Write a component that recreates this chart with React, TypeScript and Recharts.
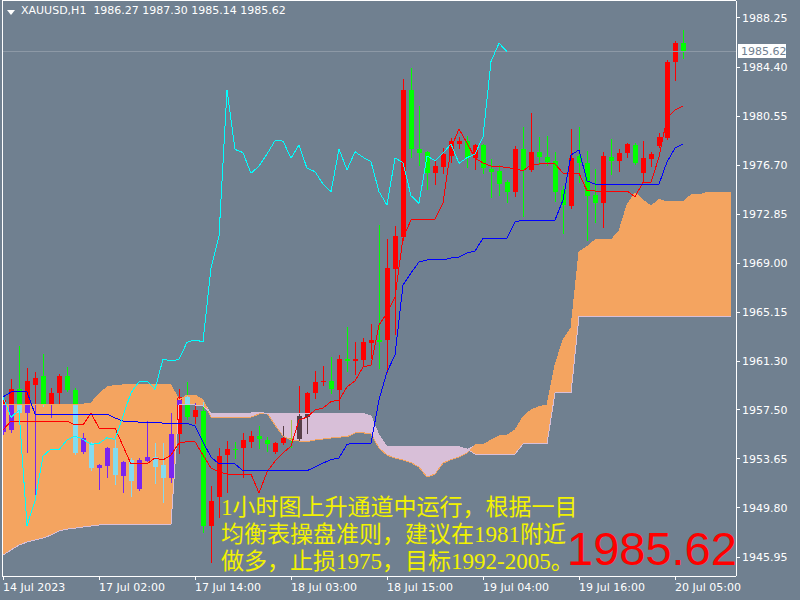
import React from "react";
import {
  Area,
  Bar,
  ComposedChart,
  Line,
  ReferenceLine,
  XAxis,
  YAxis,
} from "recharts";

// XAUUSD H1 candles, 14 Jul 13:00 .. 20 Jul 06:00
const opens = [
  1955.76, 1955.91, 1959.13, 1957.27, 1959.45, 1960.18, 1957.88, 1958.84, 1960.15, 1959.05,
  1954.21, 1954.87, 1952.91, 1953.11, 1954.52, 1952.33, 1953.56, 1951.28, 1953.5, 1953.77,
  1953.17, 1952.17, 1955.6, 1958.48, 1956.96, 1957.43, 1948.4, 1950.63, 1953.95, 1954.42,
  1954.48, 1955.0, 1955.44, 1955.13, 1954.21, 1954.87, 1955.31, 1955.18, 1956.93, 1958.79,
  1959.66, 1959.76, 1959.05, 1961.46, 1961.33, 1961.41, 1962.77, 1962.98, 1962.98, 1968.57,
  1971.04, 1982.6, 1977.97, 1977.75, 1976.06, 1976.53, 1977.44, 1978.34, 1978.59, 1977.24,
  1978.28, 1976.4, 1976.24, 1975.4, 1974.62, 1977.97, 1976.32, 1977.75, 1977.36, 1977.05,
  1974.75, 1973.52, 1977.42, 1976.84, 1974.36, 1973.7, 1977.36, 1977.05, 1977.63, 1978.28,
  1976.11, 1977.18, 1978.2, 1978.81, 1984.82, 1986.27,
];
const highs = [
  1958.42, 1959.89, 1962.51, 1960.78, 1960.44, 1961.88, 1959.23, 1960.29, 1960.83, 1959.21,
  1955.66, 1955.0, 1953.25, 1954.58, 1955.13, 1953.48, 1953.69, 1953.69, 1956.62, 1954.87,
  1954.87, 1957.27, 1959.13, 1959.7, 1958.03, 1958.27, 1951.52, 1954.48, 1955.05, 1955.0,
  1955.66, 1955.84, 1956.23, 1955.39, 1955.0, 1956.23, 1956.7, 1959.37, 1958.93, 1960.54,
  1960.94, 1961.62, 1961.8, 1963.97, 1962.8, 1963.11, 1964.23, 1972.0, 1970.88, 1971.92,
  1983.44, 1984.3, 1981.34, 1977.81, 1977.03, 1978.07, 1978.81, 1978.93, 1978.99, 1978.34,
  1978.34, 1977.18, 1976.71, 1975.53, 1978.2, 1979.67, 1980.82, 1978.89, 1978.99, 1977.75,
  1975.06, 1979.51, 1979.72, 1977.81, 1976.4, 1977.75, 1978.75, 1977.97, 1978.4, 1978.4,
  1978.59, 1977.71, 1979.2, 1984.95, 1986.44, 1987.3,
];
const lows = [
  1955.6, 1955.76, 1957.17, 1954.21, 1950.81, 1957.8, 1956.96, 1958.06, 1958.97, 1954.03,
  1954.11, 1952.77, 1951.26, 1952.2, 1951.68, 1951.07, 1950.76, 1951.21, 1953.48, 1951.73,
  1950.29, 1951.86, 1954.08, 1956.78, 1956.46, 1947.93, 1945.58, 1949.11, 1951.07, 1953.69,
  1952.25, 1954.6, 1954.48, 1954.27, 1954.15, 1954.78, 1954.6, 1955.09, 1955.66, 1958.4,
  1959.45, 1958.79, 1957.56, 1960.54, 1960.29, 1960.94, 1961.54, 1960.76, 1960.49, 1963.45,
  1970.83, 1977.32, 1976.71, 1974.8, 1975.2, 1976.06, 1976.92, 1978.07, 1976.58, 1976.37,
  1976.11, 1974.22, 1974.36, 1973.83, 1974.3, 1972.73, 1976.24, 1976.79, 1976.71, 1973.91,
  1971.4, 1973.36, 1975.4, 1970.83, 1972.26, 1971.87, 1976.0, 1976.26, 1977.36, 1976.79,
  1975.4, 1976.66, 1978.12, 1978.75, 1983.38, 1985.14,
];
const closes = [
  1958.27, 1959.13, 1957.27, 1959.76, 1960.02, 1957.88, 1958.84, 1960.15, 1959.05, 1954.13,
  1955.26, 1952.91, 1953.17, 1954.52, 1952.38, 1953.43, 1951.94, 1953.56, 1953.82, 1953.03,
  1952.17, 1955.6, 1958.48, 1956.91, 1957.48, 1948.4, 1950.37, 1953.87, 1954.42, 1954.37,
  1955.13, 1955.44, 1955.18, 1954.79, 1954.87, 1955.31, 1955.18, 1957.01, 1958.84, 1959.7,
  1959.76, 1959.11, 1961.49, 1961.33, 1961.46, 1962.8, 1962.98, 1962.84, 1968.65, 1971.14,
  1982.6, 1977.94, 1977.68, 1976.06, 1976.63, 1977.57, 1978.62, 1978.59, 1977.24, 1978.28,
  1976.45, 1976.19, 1975.22, 1974.62, 1977.97, 1976.32, 1977.75, 1977.32, 1976.97, 1974.62,
  1973.57, 1977.26, 1976.89, 1974.3, 1973.7, 1977.42, 1977.05, 1977.63, 1978.36, 1976.84,
  1977.28, 1977.57, 1978.93, 1984.82, 1986.27, 1985.62,
];

// Ichimoku lines
const tenkan = [
  1955.91, 1956.62, 1956.62, 1956.62, 1956.62, 1956.62, 1956.62, 1956.62, 1956.62, 1956.31,
  1956.31, 1957.25, 1956.07, 1956.07, 1956.07, 1954.66, 1953.25, 1953.25, 1953.25, 1953.72,
  1953.56, 1953.95, 1954.89, 1955.0, 1955.0, 1953.95, 1952.93, 1952.64, 1952.46, 1952.46,
  1952.46, 1952.46, 1950.97, 1952.62, 1953.48, 1954.11, 1954.66, 1956.7, 1956.93, 1957.48,
  1957.64, 1958.14, 1958.27, 1959.29, 1959.76, 1960.86, 1961.02, 1964.15, 1965.1, 1966.35,
  1970.98, 1972.39, 1972.47, 1972.47, 1972.47, 1973.73, 1978.05, 1979.54, 1978.44, 1977.26,
  1976.87, 1976.63, 1976.58, 1976.53, 1976.4, 1976.26, 1976.71, 1976.79, 1976.79, 1976.79,
  1976.08, 1976.06, 1976.06, 1974.69, 1974.67, 1974.67, 1974.67, 1974.67, 1974.67, 1974.22,
  1975.35, 1975.35, 1977.34, 1980.4, 1981.03, 1981.34,
];
const kijun = [
  1958.5, 1958.9, 1958.9, 1958.9, 1957.17, 1957.17, 1957.17, 1957.17, 1957.17, 1957.17,
  1957.17, 1957.17, 1957.17, 1957.17, 1956.86, 1956.62, 1956.58, 1956.54, 1956.54, 1956.5,
  1956.46, 1956.46, 1956.44, 1956.44, 1956.23, 1954.97, 1953.79, 1953.25, 1953.25, 1953.25,
  1952.72, 1952.72, 1952.72, 1952.72, 1952.72, 1952.72, 1952.72, 1952.72, 1952.72, 1953.01,
  1953.32, 1953.6, 1953.72, 1954.79, 1954.89, 1954.89, 1954.89, 1958.27, 1960.47, 1961.8,
  1967.29, 1968.24, 1969.1, 1969.26, 1969.26, 1969.26, 1969.41, 1969.49, 1969.8, 1969.96,
  1970.96, 1970.96, 1970.96, 1970.96, 1972.24, 1972.39, 1972.39, 1972.39, 1972.39, 1972.39,
  1973.96, 1977.5, 1977.89, 1975.46, 1975.22, 1975.22, 1975.22, 1975.22, 1975.22, 1975.22,
  1975.22, 1975.22, 1975.22, 1976.95, 1978.05, 1978.36,
];
// senkou spans run 6 bars past the last candle
const spanA = [
  1957.95, 1957.95, 1957.95, 1957.95, 1957.95, 1957.95, 1957.95, 1957.95, 1957.95, 1957.95,
  1957.95, 1958.03, 1958.74, 1959.29, 1959.41, 1959.45, 1959.48, 1959.48, 1959.48, 1959.48,
  1959.48, 1959.45, 1958.27, 1958.66, 1958.66, 1958.27, 1956.93, 1956.89, 1956.86, 1956.86,
  1956.86, 1956.93, 1957.17, 1957.25, 1956.31, 1955.44, 1955.13, 1955.05, 1955.0, 1955.13,
  1955.21, 1955.29, 1955.36, 1955.39, 1955.68, 1955.7, 1955.6, 1954.5, 1953.95, 1953.72,
  1953.56, 1953.36, 1953.01, 1952.22, 1952.46, 1953.32, 1953.6, 1953.79, 1954.11, 1954.74,
  1954.74, 1955.13, 1955.44, 1955.52, 1955.91, 1956.96, 1957.48, 1957.74, 1957.88, 1961.0,
  1962.98, 1963.92, 1969.88, 1970.3, 1970.83, 1970.83, 1970.83, 1971.53, 1973.57, 1974.52,
  1973.96, 1973.49, 1974.0, 1973.83, 1973.81, 1973.81, 1974.36, 1974.36, 1974.57, 1974.57,
  1974.57, 1974.57,
];
const spanB = [
  1946.1, 1946.5, 1946.89, 1947.12, 1947.28, 1947.44, 1947.67, 1947.99, 1948.14, 1948.22,
  1948.3, 1948.38, 1948.46, 1948.54, 1948.54, 1948.54, 1948.54, 1948.54, 1948.54, 1948.54,
  1948.54, 1948.54, 1957.88, 1957.88, 1957.88, 1957.8, 1957.25, 1957.25, 1957.25, 1957.25,
  1957.25, 1957.25, 1957.33, 1957.21, 1957.21, 1957.21, 1957.21, 1957.21, 1957.21, 1957.21,
  1957.21, 1957.21, 1957.21, 1957.21, 1957.21, 1957.21, 1957.01, 1955.52, 1954.6, 1954.6,
  1954.6, 1954.6, 1954.6, 1954.6, 1954.6, 1954.6, 1954.6, 1954.6, 1954.42, 1954.03,
  1954.03, 1954.03, 1954.03, 1954.03, 1954.03, 1954.82, 1954.85, 1954.85, 1954.85, 1958.82,
  1958.82, 1958.82, 1964.86, 1964.86, 1964.86, 1964.86, 1964.86, 1964.86, 1964.86, 1964.86,
  1964.86, 1964.86, 1964.86, 1964.86, 1964.86, 1964.86, 1964.86, 1964.86, 1964.86, 1964.86,
  1964.86, 1964.86,
];
const CHIKOU_SHIFT = 22;

const priceTicks = [
  1988.25, 1984.4, 1980.55, 1976.7, 1972.85, 1969.0, 1965.15, 1961.3, 1957.5, 1953.65,
  1949.8, 1945.95,
];
const timeTicks = [0, 12, 24, 36, 48, 60, 72, 84];
const timeLabels = [
  "14 Jul 2023",
  "17 Jul 02:00",
  "17 Jul 14:00",
  "18 Jul 03:00",
  "18 Jul 15:00",
  "19 Jul 04:00",
  "19 Jul 16:00",
  "20 Jul 05:00",
];
const lastBar = { open: 1986.27, high: 1987.3, low: 1985.14, close: 1985.62 };

const BG = "#708090";
const SAND = "#f4a460";
const THISTLE = "#d8bfd8";
const AXIS_FONT = "DejaVu Sans";

const rows = spanA.map((a, i) => {
  const b = spanB[i];
  const has = i < closes.length;
  const top = Math.max(a, b);
  return {
    i,
    o: has ? opens[i] : null,
    h: has ? highs[i] : null,
    l: has ? lows[i] : null,
    c: has ? closes[i] : null,
    range: has ? [lows[i], highs[i]] : null,
    tenkan: has ? tenkan[i] : null,
    kijun: has ? kijun[i] : null,
    chikou: i + CHIKOU_SHIFT < closes.length ? closes[i + CHIKOU_SHIFT] : null,
    spanA: a,
    spanB: b,
    sandCloud: [b, top],
    thistleCloud: [a, top],
  };
});

// split a pixel run into the parts inside / outside the cloud band
function splitRun(y1: number, y2: number, c1: number, c2: number) {
  const lo = Math.max(y1, c1);
  const hi = Math.min(y2, c2);
  if (hi <= lo) return [[y1, y2, 0]];
  const out: number[][] = [];
  if (lo > y1) out.push([y1, lo, 0]);
  out.push([lo, hi, 1]);
  if (y2 > hi) out.push([hi, y2, 0]);
  return out;
}

function Candle(props: any) {
  const { x, y, width, height, payload } = props;
  if (!payload || payload.o == null) return null;
  const { o, h, l, c, spanA: a, spanB: b } = payload;
  const top = Math.min(y, y + height);
  const bot = Math.max(y, y + height);
  const k = h > l ? (bot - top) / (h - l) : 0;
  const py = (p: number) => top + (h - p) * k;
  const cx = Math.round(x + width / 2);
  const up = c >= o;
  const outColor = up ? "#ff0000" : "#00ff00";
  // MT4 draws the cloud histogram XOR'ed over the bars
  const inColor =
    a >= b ? (up ? "#7b24f0" : "#84dbf0") : up ? "#573f48" : "#a8c048";
  const cTop = py(Math.max(a, b));
  const cBot = py(Math.min(a, b));
  const bTop = py(Math.max(o, c));
  const bBot = Math.max(py(Math.min(o, c)), bTop + 1);
  return (
    <g>
      {splitRun(py(h), py(l) + 1, cTop, cBot).map(([f, t, inside], n) => (
        <rect key={"w" + n} x={cx} y={f} width={1} height={t - f}
          fill={inside ? inColor : outColor} />
      ))}
      {splitRun(bTop, bBot, cTop, cBot).map(([f, t, inside], n) => (
        <rect key={"b" + n} x={cx - 2} y={f} width={5} height={t - f}
          fill={inside ? inColor : outColor} />
      ))}
    </g>
  );
}

function TimeTick(props: any) {
  const { x, y, payload } = props;
  const label = timeLabels[timeTicks.indexOf(payload.value)];
  return (
    <text x={x} y={y + 11} fill="#ffffff" fontSize={11} fontFamily={AXIS_FONT} textAnchor="start">
      {label}
    </text>
  );
}

function PriceTag(props: any) {
  const vb = props.viewBox || {};
  const left = vb.x + vb.width + 2;
  return (
    <g>
      <rect x={left} y={vb.y - 7} width={48} height={14} fill="#ffffff" />
      <text x={left + 3} y={vb.y + 4} fill={BG} fontSize={11} fontFamily={AXIS_FONT}>
        {lastBar.close.toFixed(2)}
      </text>
    </g>
  );
}

export default function App() {
  return (
    <div
      style={{
        position: "fixed",
        left: 0,
        top: 0,
        width: 800,
        height: 600,
        background: BG,
        overflow: "hidden",
        shapeRendering: "crispEdges",
      }}
    >
      <ComposedChart
        width={800}
        height={600}
        data={rows}
        margin={{ top: 1, right: 0, left: 2, bottom: 0 }}
      >
        <XAxis
          dataKey="i"
          type="number"
          domain={[-0.125, 91.625]}
          allowDataOverflow
          ticks={timeTicks}
          interval={0}
          height={24}
          tickSize={4}
          tickMargin={0}
          stroke="#ffffff"
          tick={<TimeTick />}
        />
        <YAxis
          orientation="right"
          type="number"
          domain={[1944.46, 1989.58]}
          allowDataOverflow
          ticks={priceTicks}
          interval={0}
          width={64}
          tickSize={4}
          tickMargin={2}
          stroke="#ffffff"
          tickFormatter={(v: number) => v.toFixed(2)}
          tick={{ fill: "#ffffff", fontSize: 11, fontFamily: AXIS_FONT }}
        />
        <ReferenceLine y={lastBar.close} stroke="#8d99a6" label={<PriceTag />} />
        <Area type="linear" dataKey="sandCloud" stroke="none" fill={SAND} fillOpacity={1} isAnimationActive={false} />
        <Area type="linear" dataKey="thistleCloud" stroke="none" fill={THISTLE} fillOpacity={1} isAnimationActive={false} />
        <Line type="linear" dataKey="spanA" stroke={SAND} strokeWidth={1} dot={false} isAnimationActive={false} />
        <Line type="linear" dataKey="spanB" stroke={THISTLE} strokeWidth={1} dot={false} isAnimationActive={false} />
        <Bar dataKey="range" barSize={6} shape={Candle} isAnimationActive={false} />
        <Line type="linear" dataKey="tenkan" stroke="#ff0000" strokeWidth={1} dot={false} isAnimationActive={false} />
        <Line type="linear" dataKey="kijun" stroke="#0000ff" strokeWidth={1} dot={false} isAnimationActive={false} />
        <Line type="linear" dataKey="chikou" stroke="#00ffff" strokeWidth={1} dot={false} isAnimationActive={false} />
      </ComposedChart>

      <div
        style={{
          position: "absolute",
          left: 2,
          top: 0,
          width: 734,
          height: 576,
          borderLeft: "1px solid #ffffff",
          borderTop: "1px solid #ffffff",
          boxSizing: "border-box",
          pointerEvents: "none",
        }}
      />
      <div
        style={{
          position: "absolute",
          left: 7,
          top: 10,
          width: 0,
          height: 0,
          borderLeft: "4px solid transparent",
          borderRight: "4px solid transparent",
          borderTop: "5px solid #ffffff",
        }}
      />
      <div
        style={{
          position: "absolute",
          left: 21,
          top: 4,
          color: "#ffffff",
          fontFamily: AXIS_FONT,
          fontSize: 11,
          whiteSpace: "pre",
        }}
      >
        {`XAUUSD,H1  ${lastBar.open.toFixed(2)} ${lastBar.high.toFixed(2)} ${lastBar.low.toFixed(2)} ${lastBar.close.toFixed(2)}`}
      </div>
      <div
        style={{
          position: "absolute",
          left: 221,
          top: 494,
          color: "#f2f200",
          fontFamily: '"Liberation Serif", "Noto Sans CJK SC", serif',
          fontSize: 23,
          lineHeight: "27px",
          whiteSpace: "pre",
        }}
      >
        <div>1小时图上升通道中运行，根据一目</div>
        <div>均衡表操盘准则，建议在1981附近</div>
        <div>做多，止损1975，目标1992-2005。</div>
      </div>
      <div
        style={{
          position: "absolute",
          left: 567,
          top: 522,
          color: "#ff0000",
          fontFamily: '"Liberation Sans", Arial, sans-serif',
          fontSize: 47,
          lineHeight: "54px",
          whiteSpace: "pre",
        }}
      >
        {lastBar.close.toFixed(2)}
      </div>
    </div>
  );
}
